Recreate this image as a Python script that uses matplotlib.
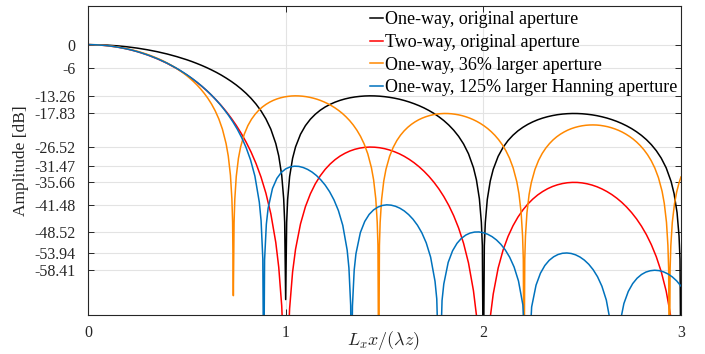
import matplotlib
matplotlib.use("Agg")
import matplotlib.pyplot as plt

# ---- data: x = Lx x/(lambda z), y = amplitude [dB] ----
# original aperture, one lobe per line (null at the end of each lobe)
x_orig_0 = [0, 0.05, 0.1, 0.15, 0.2, 0.25, 0.3, 0.35, 0.4, 0.45, 0.5, 0.525, 0.55, 0.575, 0.6, 0.625, 0.65, 0.675,
            0.7, 0.725, 0.75, 0.775, 0.8, 0.825, 0.85, 0.875, 0.9, 0.925, 0.95, 0.965, 0.98, 0.99, 0.995, 1.0]
x_orig_1 = [1.005, 1.01, 1.02, 1.035, 1.05, 1.075, 1.1, 1.125, 1.15, 1.175, 1.2, 1.225, 1.25, 1.275, 1.3, 1.325,
            1.35, 1.375, 1.4, 1.425, 1.45, 1.475, 1.5, 1.525, 1.55, 1.575, 1.6, 1.625, 1.65, 1.675, 1.7, 1.725,
            1.75, 1.775, 1.8, 1.825, 1.85, 1.875, 1.9, 1.925, 1.95, 1.965, 1.98, 1.99, 1.995, 2.0]
x_orig_2 = [2.005, 2.01, 2.02, 2.035, 2.05, 2.075, 2.1, 2.125, 2.15, 2.175, 2.2, 2.225, 2.25, 2.275, 2.3, 2.325,
            2.35, 2.375, 2.4, 2.425, 2.45, 2.475, 2.5, 2.525, 2.55, 2.575, 2.6, 2.625, 2.65, 2.675, 2.7, 2.725,
            2.75, 2.775, 2.8, 2.825, 2.85, 2.875, 2.9, 2.925, 2.95, 2.965, 2.98, 2.99, 2.995, 3.0]

one_way_0 = [0, -0.04, -0.14, -0.32, -0.58, -0.91, -1.33, -1.83, -2.42, -3.12, -3.92, -4.37, -4.86, -5.38, -5.94,
             -6.55, -7.20, -7.91, -8.69, -9.53, -10.45, -11.48, -12.62, -13.91, -15.39, -17.13, -19.23, -21.90,
             -25.61, -28.83, -33.81, -39.92, -45.98, -66.0]
one_way_1 = [-46.07, -40.09, -34.16, -29.44, -26.48, -23.21, -20.97, -19.31, -18.02, -16.98, -16.14, -15.46,
             -14.89, -14.43, -14.06, -13.77, -13.55, -13.40, -13.30, -13.26, -13.28, -13.35, -13.47, -13.64, -13.86,
             -14.13, -14.46, -14.85, -15.30, -15.81, -16.39, -17.06, -17.81, -18.68, -19.66, -20.81, -22.15,
             -23.75, -25.72, -28.27, -31.86, -35.00, -39.92, -45.98, -52.02, -90.0]
one_way_2 = [-52.07, -46.07, -40.09, -35.31, -32.29, -28.92, -26.59, -24.83, -23.45, -22.33, -21.41, -20.64,
             -20.00, -19.46, -19.02, -18.66, -18.37, -18.14, -17.98, -17.88, -17.83, -17.84, -17.90, -18.02, -18.18,
             -18.40, -18.68, -19.01, -19.41, -19.87, -20.41, -21.03, -21.74, -22.56, -23.50, -24.60, -25.90,
             -27.46, -29.39, -31.90, -35.45, -38.58, -43.47, -49.52, -55.55, -90.0]

two_way_0 = [0, -0.07, -0.29, -0.65, -1.16, -1.82, -2.65, -3.65, -4.84, -6.23, -7.84, -8.75, -9.72, -10.76, -11.88,
             -13.10, -14.41, -15.83, -17.37, -19.06, -20.91, -22.96, -25.24, -27.82, -30.78, -34.25, -38.46, -43.81,
             -51.22, -57.65, -67.62, -79.83, -91.96, -130.0]
two_way_1 = [-92.13, -80.18, -68.31, -58.87, -52.96, -46.42, -41.94, -38.62, -36.03, -33.96, -32.28, -30.91,
             -29.78, -28.86, -28.13, -27.54, -27.10, -26.79, -26.60, -26.52, -26.56, -26.69, -26.93, -27.27, -27.72,
             -28.26, -28.92, -29.70, -30.59, -31.62, -32.79, -34.12, -35.63, -37.35, -39.33, -41.61, -44.29,
             -47.49, -51.44, -56.54, -63.71, -70.01, -79.83, -91.96, -104.04, -130.0]
two_way_2 = [-104.13, -92.13, -80.18, -70.61, -64.58, -57.84, -53.17, -49.67, -46.90, -44.66, -42.81, -41.28,
             -40.00, -38.92, -38.04, -37.31, -36.73, -36.29, -35.97, -35.76, -35.67, -35.68, -35.80, -36.03, -36.36,
             -36.80, -37.36, -38.03, -38.82, -39.75, -40.82, -42.06, -43.48, -45.11, -47.00, -49.20, -51.80,
             -54.92, -58.78, -63.81, -70.90, -77.15, -86.93, -99.03, -111.10, -130.0]

# 36 % larger aperture
x_wide_0 = [0, 0.0368, 0.0735, 0.1103, 0.1471, 0.1838, 0.2206, 0.2574, 0.2941, 0.3309, 0.3676, 0.3860, 0.4044,
            0.4228, 0.4412, 0.4596, 0.4779, 0.4963, 0.5147, 0.5331, 0.5515, 0.5699, 0.5882, 0.6066, 0.6250, 0.6434,
            0.6618, 0.6801, 0.6985, 0.7096, 0.7206, 0.7279, 0.7316, 0.7353]
x_wide_1 = [0.7390, 0.7426, 0.7500, 0.7610, 0.7721, 0.7904, 0.8088, 0.8272, 0.8456, 0.8640, 0.8824, 0.9007,
            0.9191, 0.9375, 0.9559, 0.9743, 0.9926, 1.0110, 1.0294, 1.0478, 1.0662, 1.0846, 1.1029, 1.1213, 1.1397,
            1.1581, 1.1765, 1.1949, 1.2132, 1.2316, 1.2500, 1.2684, 1.2868, 1.3051, 1.3235, 1.3419, 1.3603, 1.3787,
            1.3971, 1.4154, 1.4338, 1.4449, 1.4559, 1.4632, 1.4669, 1.4706]
x_wide_2 = [1.4743, 1.4779, 1.4853, 1.4963, 1.5074, 1.5257, 1.5441, 1.5625, 1.5809, 1.5993, 1.6176, 1.6360,
            1.6544, 1.6728, 1.6912, 1.7096, 1.7279, 1.7463, 1.7647, 1.7831, 1.8015, 1.8199, 1.8382, 1.8566, 1.8750,
            1.8934, 1.9118, 1.9301, 1.9485, 1.9669, 1.9853, 2.0037, 2.0221, 2.0404, 2.0588, 2.0772, 2.0956, 2.1140,
            2.1324, 2.1507, 2.1691, 2.1801, 2.1912, 2.1985, 2.2022, 2.2059]
x_wide_3 = [2.2096, 2.2132, 2.2206, 2.2316, 2.2426, 2.2610, 2.2794, 2.2978, 2.3162, 2.3346, 2.3529, 2.3713,
            2.3897, 2.4081, 2.4265, 2.4449, 2.4632, 2.4816, 2.5000, 2.5184, 2.5368, 2.5551, 2.5735, 2.5919, 2.6103,
            2.6287, 2.6471, 2.6654, 2.6838, 2.7022, 2.7206, 2.7390, 2.7574, 2.7757, 2.7941, 2.8125, 2.8309, 2.8493,
            2.8676, 2.8860, 2.9044, 2.9154, 2.9265, 2.9338, 2.9375, 2.9412]
x_wide_4 = [2.9449, 2.9485, 2.9559, 2.9669, 2.9779, 2.9890, 3.0]

wide_0 = [0, -0.04, -0.14, -0.32, -0.58, -0.91, -1.33, -1.83, -2.42, -3.12, -3.92, -4.37, -4.86, -5.38, -5.94,
          -6.55, -7.20, -7.91, -8.69, -9.53, -10.45, -11.48, -12.62, -13.91, -15.39, -17.13, -19.23, -21.90,
          -25.61, -28.83, -33.81, -39.92, -45.98, -65.0]
wide_1 = [-46.07, -40.09, -34.16, -29.44, -26.48, -23.21, -20.97, -19.31, -18.02, -16.98, -16.14, -15.46,
          -14.89, -14.43, -14.06, -13.77, -13.55, -13.40, -13.30, -13.26, -13.28, -13.35, -13.47, -13.64, -13.86,
          -14.13, -14.46, -14.85, -15.30, -15.81, -16.39, -17.06, -17.81, -18.68, -19.66, -20.81, -22.15,
          -23.75, -25.72, -28.27, -31.86, -35.00, -39.92, -45.98, -52.02, -90.0]
wide_2 = [-52.07, -46.07, -40.09, -35.31, -32.29, -28.92, -26.59, -24.83, -23.45, -22.33, -21.41, -20.64,
          -20.00, -19.46, -19.02, -18.66, -18.37, -18.14, -17.98, -17.88, -17.83, -17.84, -17.90, -18.02, -18.18,
          -18.40, -18.68, -19.01, -19.41, -19.87, -20.41, -21.03, -21.74, -22.56, -23.50, -24.60, -25.90,
          -27.46, -29.39, -31.90, -35.45, -38.58, -43.47, -49.52, -55.55, -90.0]
wide_3 = [-55.58, -49.57, -43.58, -38.78, -35.74, -32.34, -29.97, -28.18, -26.77, -25.62, -24.66, -23.86,
          -23.19, -22.63, -22.15, -21.76, -21.45, -21.20, -21.01, -20.88, -20.81, -20.79, -20.82, -20.91, -21.06,
          -21.25, -21.51, -21.82, -22.19, -22.63, -23.15, -23.75, -24.43, -25.23, -26.15, -27.23, -28.51,
          -30.05, -31.96, -34.46, -37.99, -41.10, -45.98, -52.02, -58.05, -90.0]
wide_4 = [-58.08, -52.07, -46.07, -41.25, -38.21, -35.98, -34.25]

# 125 % larger Hanning apodised aperture
x_hann_0 = [0, 0.0444, 0.0889, 0.1333, 0.1778, 0.2222, 0.2667, 0.3111, 0.3556, 0.4000, 0.4444, 0.4667, 0.4889,
            0.5111, 0.5333, 0.5556, 0.5778, 0.6000, 0.6222, 0.6444, 0.6667, 0.6889, 0.7111, 0.7333, 0.7556, 0.7778,
            0.8000, 0.8222, 0.8444, 0.8667, 0.8756, 0.8844, 0.8889]
x_hann_1 = [0.8933, 0.9022, 0.9111, 0.9333, 0.9556, 0.9778, 1.0000, 1.0222, 1.0444, 1.0667, 1.0889, 1.1111,
            1.1333, 1.1556, 1.1778, 1.2000, 1.2222, 1.2444, 1.2667, 1.2889, 1.3111, 1.3200, 1.3289, 1.3333]
x_hann_2 = [1.3378, 1.3467, 1.3556, 1.3778, 1.4000, 1.4222, 1.4444, 1.4667, 1.4889, 1.5111, 1.5333, 1.5556,
            1.5778, 1.6000, 1.6222, 1.6444, 1.6667, 1.6889, 1.7111, 1.7333, 1.7556, 1.7644, 1.7778]
x_hann_3 = [1.7911, 1.8000, 1.8222, 1.8444, 1.8667, 1.8889, 1.9111, 1.9333, 1.9556, 1.9778, 2.0000, 2.0222,
            2.0444, 2.0667, 2.0889, 2.1111, 2.1333, 2.1556, 2.1778, 2.2000, 2.2222]
x_hann_4 = [2.2444, 2.2667, 2.2889, 2.3111, 2.3333, 2.3556, 2.3778, 2.4000, 2.4222, 2.4444, 2.4667, 2.4889,
            2.5111, 2.5333, 2.5556, 2.5778, 2.6000, 2.6222, 2.6444, 2.6667]
x_hann_5 = [2.6889, 2.7111, 2.7333, 2.7556, 2.7778, 2.8000, 2.8222, 2.8444, 2.8667, 2.8889, 2.9111, 2.9333,
            2.9556, 2.9778, 3.0000]

hann_0 = [0, -0.06, -0.22, -0.51, -0.91, -1.42, -2.07, -2.84, -3.75, -4.80, -6.02, -6.69, -7.42, -8.19, -9.01,
          -9.89, -10.84, -11.86, -12.95, -14.13, -15.40, -16.80, -18.32, -20.02, -21.92, -24.10, -26.67, -29.83,
          -34.05, -40.81, -45.55, -55.41, -90.0]
hann_1 = [-55.73, -46.51, -42.40, -37.24, -34.63, -33.09, -32.17, -31.67, -31.47, -31.53, -31.82, -32.31, -32.99,
          -33.89, -35.01, -36.38, -38.08, -40.20, -42.95, -46.79, -53.19, -57.79, -67.51, -90.0]
hann_2 = [-67.70, -58.36, -54.13, -48.67, -45.78, -43.97, -42.80, -42.06, -41.64, -41.48, -41.56, -41.85, -42.35,
          -43.06, -44.01, -45.22, -46.76, -48.72, -51.32, -55.02, -61.28, -65.83, -90.0]
hann_3 = [-66.24, -61.96, -56.38, -53.37, -51.45, -50.16, -49.31, -48.78, -48.53, -48.50, -48.70, -49.10, -49.72,
          -50.58, -51.71, -53.16, -55.05, -57.57, -61.19, -67.37, -90.0]
hann_4 = [-67.91, -62.26, -59.18, -57.19, -55.84, -54.93, -54.34, -54.02, -53.94, -54.07, -54.42, -54.99, -55.79,
          -56.86, -58.27, -60.10, -62.57, -66.14, -72.28, -90.0]
hann_5 = [-72.72, -67.03, -63.90, -61.87, -60.48, -59.52, -58.89, -58.54, -58.41, -58.51, -58.82, -59.35, -60.12,
          -61.15, -62.52]

ytick_vals = [0, -6, -13.26, -17.83, -26.52, -31.47, -35.66, -41.48, -48.52, -53.94, -58.41]
ytick_labels = ["0", "-6", "-13.26", "-17.83", "-26.52", "-31.47", "-35.66", "-41.48", "-48.52", "-53.94", "-58.41"]
xtick_vals = [0, 1, 2, 3]

series_labels = ["One-way, original aperture", "Two-way, original aperture",
                 "One-way, 36% larger aperture", "One-way, 125% larger Hanning aperture"]
series_colors = ["black", "#FF0000", "#FF8800", "#0072BD"]

# whole curves
x_orig = x_orig_0 + x_orig_1 + x_orig_2
db_one_way = one_way_0 + one_way_1 + one_way_2
db_two_way = two_way_0 + two_way_1 + two_way_2
x_wide = x_wide_0 + x_wide_1 + x_wide_2 + x_wide_3 + x_wide_4
db_wide = wide_0 + wide_1 + wide_2 + wide_3 + wide_4
x_hann = x_hann_0 + x_hann_1 + x_hann_2 + x_hann_3 + x_hann_4 + x_hann_5
db_hann = hann_0 + hann_1 + hann_2 + hann_3 + hann_4 + hann_5

plt.rcParams['font.family'] = ['Liberation Serif', 'DejaVu Serif']
plt.rcParams['mathtext.fontset'] = 'cm'
plt.rcParams['axes.unicode_minus'] = False

fig = plt.figure(figsize=(7.05, 3.54), dpi=100)
ax = fig.add_axes([88 / 705, 39 / 354, 593 / 705, 309 / 354])

curves = [(x_orig, db_one_way), (x_orig, db_two_way), (x_wide, db_wide), (x_hann, db_hann)]
for (xs, ys), c, lab in zip(curves, series_colors, series_labels):
    ax.plot(xs, ys, color=c, lw=1.1, label=lab)

ax.set_xlim(0, 3)
ax.set_ylim(-70, 10)
ax.set_xticks(xtick_vals)
ax.set_yticks(ytick_vals)
ax.set_yticklabels(ytick_labels)
ax.grid(True, color='#E3E3E3', lw=0.8)
ax.set_axisbelow(True)
ax.tick_params(direction='in', length=4, width=0.7, colors='#262626', labelsize=11.5,
               top=True, right=True, labeltop=False, labelright=False)
ax.tick_params(axis='y', pad=9)
ax.tick_params(axis='x', pad=7)
for s in ax.spines.values():
    s.set_color('#262626')
    s.set_linewidth(0.8)

ax.set_xlabel(r'$L_x x/(\lambda z)$', fontsize=13, color='#262626')
ax.xaxis.set_label_coords(0.498, -0.045)
ax.set_ylabel('Amplitude [dB]', fontsize=12.5, color='#262626', labelpad=4)

ax.legend(loc='upper left', bbox_to_anchor=(0.466, 1.0), frameon=False, fontsize=13,
          handlelength=0.72, handletextpad=0.1, borderaxespad=0, borderpad=0.3,
          labelspacing=0.31)

fig.savefig('out.png', dpi=100)
